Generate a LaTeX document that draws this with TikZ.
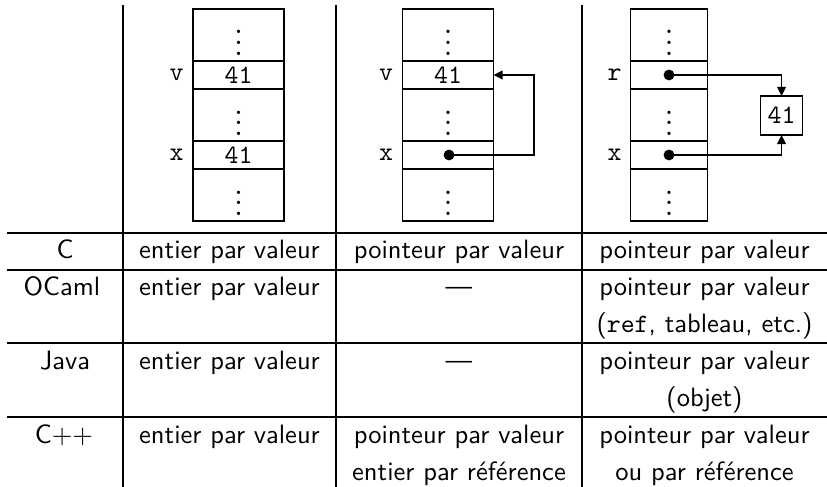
\documentclass[tikz,border=0pt]{standalone}
\usepackage{fontspec}
\usetikzlibrary{arrows.meta}
\begin{document}
\begin{tikzpicture}[x=0.377pt,y=-0.377pt,
  txt/.style={font=\sffamily, anchor=base, inner sep=0pt},
  cellbox/.style={draw, inner sep=0pt, outer sep=0pt, font=\ttfamily},
  tallcell/.style={cellbox, minimum height=19.6pt},
  shortcell/.style={cellbox, minimum height=10.6pt},
  lbl/.style={font=\ttfamily, anchor=east},
  dotnode/.style={circle, fill, inner sep=0pt, minimum size=4.1pt},
  ptr/.style={-{Triangle[length=3.4pt,width=3.3pt]}}]
\useasboundingbox (0,0) rectangle (827,487);
% table rules
\draw (7,233) -- (827,233);
\draw (7,270) -- (827,270);
\draw (7,343) -- (827,343);
\draw (7,417) -- (827,417);
\draw (123,5) -- (123,487);
\draw (336,5) -- (336,487);
\draw (582,5) -- (582,487);
% columns 1 and 2
\begin{scope}[every node/.append style={minimum width=34.3pt}]
\node[tallcell] (a1) at (238.5,35) {$\vdots$};
\node[shortcell] (av) at (238.5,75) {41};
\node[tallcell] (a2) at (238.5,115) {$\vdots$};
\node[shortcell] (ax) at (238.5,155) {41};
\node[tallcell] (a3) at (238.5,195) {$\vdots$};
\node[tallcell] (b1) at (448,35) {$\vdots$};
\node[shortcell] (bv) at (448,75) {41};
\node[tallcell] (b2) at (448,115) {$\vdots$};
\node[shortcell] (bx) at (448,155) {};
\node[tallcell] (b3) at (448,195) {$\vdots$};
\end{scope}
% column 3
\begin{scope}[every node/.append style={minimum width=28.7pt}]
\node[tallcell] (c1) at (669,35) {$\vdots$};
\node[shortcell] (cr) at (669,75) {};
\node[tallcell] (c2) at (669,115) {$\vdots$};
\node[shortcell] (cx) at (669,155) {};
\node[tallcell] (c3) at (669,195) {$\vdots$};
\end{scope}
\node[cellbox, minimum width=15.5pt, minimum height=14.7pt] (val) at (781.5,115.5) {41};
% labels
\node[lbl] (alv) at (av.west) {v};
\node[lbl] (alx) at (ax.west) {x};
\node[lbl] (blv) at (bv.west) {v};
\node[lbl] (blx) at (bx.west) {x};
\node[lbl] (clr) at (cr.west) {r};
\node[lbl] (clx) at (cx.west) {x};
% pointers
\node[dotnode] (bxd) at (449,155) {};
\node[dotnode] (crd) at (669,75) {};
\node[dotnode] (cxd) at (669,155) {};
\draw[ptr] (bxd.center) -- ++(85,0) |- (bv.east);
\draw[ptr] (crd.center) -| (val.north);
\draw[ptr] (cxd.center) -| (val.south);
% table text
\node[txt] (hC) at (65,259) {C};
\node[txt] (c1C) at (229.5,259) {entier par valeur};
\node[txt] (c2C) at (459,259) {pointeur par valeur};
\node[txt] (c3C) at (704.5,259) {pointeur par valeur};
\node[txt] (hO) at (62,296) {OCaml};
\node[txt] (c1O) at (229.5,296) {entier par valeur};
\node[txt] (c2O) at (459,296) {—};
\node[txt] (c3O) at (704.5,296) {pointeur par valeur};
\node[txt] (c3Ob) at (704.5,333) {(\texttt{ref}, tableau, etc.)};
\node[txt] (hJ) at (65,369) {Java};
\node[txt] (c1J) at (229.5,369) {entier par valeur};
\node[txt] (c2J) at (459,369) {—};
\node[txt] (c3J) at (704.5,369) {pointeur par valeur};
\node[txt] (c3Jb) at (704.5,406) {(objet)};
\node[txt] (hP) at (64,443) {C{+}{+}};
\node[txt] (c1P) at (229.5,443) {entier par valeur};
\node[txt] (c2P) at (459,443) {pointeur par valeur};
\node[txt] (c2Pb) at (459,480) {entier par référence};
\node[txt] (c3P) at (704.5,443) {pointeur par valeur};
\node[txt] (c3Pb) at (704.5,480) {ou par référence};
\end{tikzpicture}
\end{document}
